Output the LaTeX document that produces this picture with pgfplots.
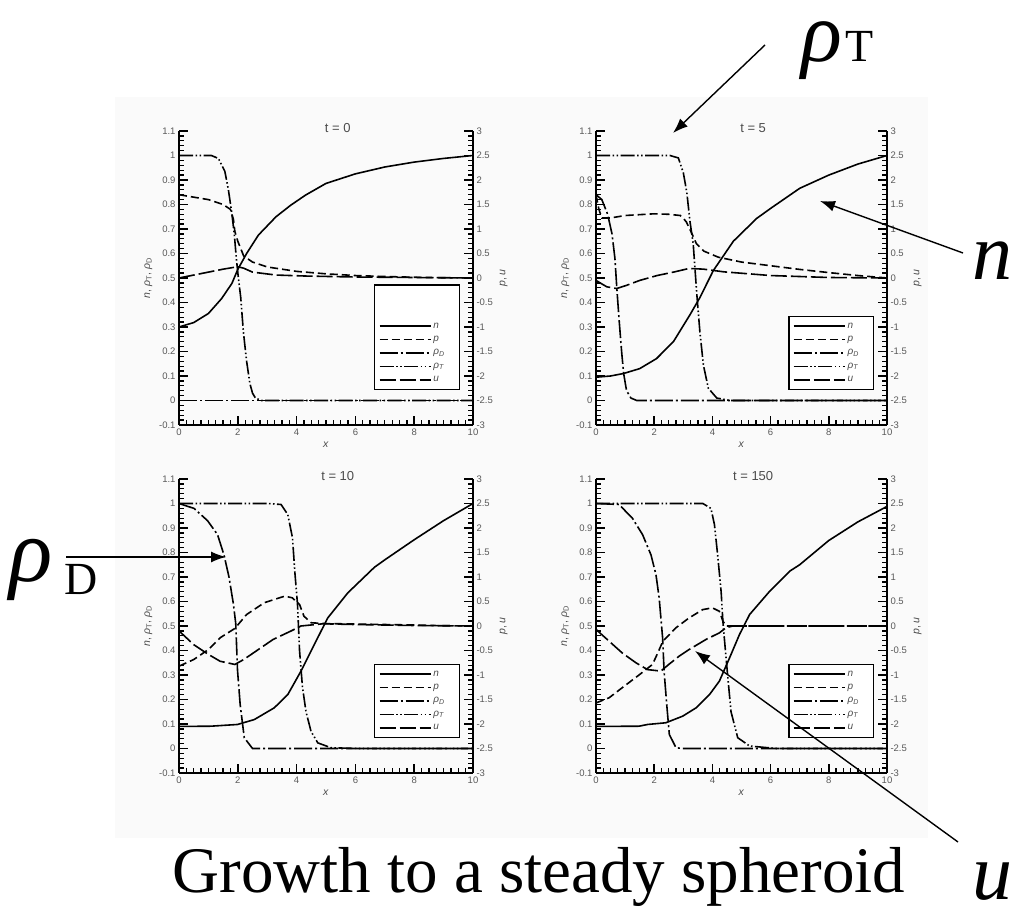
\documentclass[border=0pt]{standalone}
\usepackage{fontspec}
\setmainfont{Liberation Serif}
\setsansfont{Liberation Sans}
\usepackage{pgfplots}
\pgfplotsset{compat=1.18}
\usetikzlibrary{arrows.meta}

\tikzset{
  nst/.style={black, line width=1.6pt, solid},
  pst/.style={black, line width=1.6pt, dash pattern=on 8pt off 4pt},
  dst/.style={black, line width=1.6pt, dash pattern=on 18pt off 3pt on 2pt off 3pt},
  tst/.style={black, line width=1.6pt, dash pattern=on 14pt off 2.5pt on 1.5pt off 2.5pt on 1.5pt off 2.5pt},
  ust/.style={black, line width=1.6pt, dash pattern=on 16pt off 4pt},
  bigl/.style={anchor=base west, inner sep=0pt, text height=20pt, text depth=0pt},
}
\newcommand\tickfont{\fontsize{9.5}{10}\selectfont\sffamily}

\pgfplotsset{
  legend image code/.code={\draw[#1] (0pt,0pt) -- (51pt,0pt);},
  panelbase/.style={
    scale only axis, height=294pt, anchor=south west,
    xmin=0, xmax=10,
    tick align=inside,
    major tick length=9pt, minor tick length=5pt,
    major tick style={draw=black, line width=1.6pt},
    minor tick style={draw=black, line width=1.3pt},
    axis line style={black, line width=1.3pt},
    tick label style={font=\tickfont, color=black!65},
    label style={font=\fontsize{10.5}{11}\selectfont\sffamily, color=black!70},
    /pgf/number format/assume math mode=true,
  },
  leftax/.style={
    panelbase, ymin=-0.1, ymax=1.1,
    axis x line*=bottom, axis y line*=left,
    xtick={0,2,4,6,8,10}, minor x tick num=7,
    ytick={-0.1,0,0.1,0.2,0.3,0.4,0.5,0.6,0.7,0.8,0.9,1,1.1}, minor y tick num=4,
    xlabel={\textit{x}},
    ylabel={\textit{n}, \textit{ρ}\textsubscript{T}, \textit{ρ}\textsubscript{D}},
    title style={at={(0.54,1)}, anchor=center, yshift=-3pt,
      font=\fontsize{13}{13}\selectfont\sffamily, color=black!70},
    legend style={at={(0.956,0.119)}, anchor=south east, draw=black,
      line width=1.3pt, fill=white,
      font=\fontsize{10}{11}\selectfont\sffamily\itshape, text=black!70,
      row sep=2.6pt, inner xsep=4pt, inner ysep=4pt, cells={anchor=west}},
  },
  rightax/.style={
    panelbase, ymin=-3, ymax=3,
    axis x line=none, axis y line*=right,
    ytick={-3,-2.5,-2,-1.5,-1,-0.5,0,0.5,1,1.5,2,2.5,3}, minor y tick num=4,
    ylabel={\textit{p}, \textit{u}},
  },
}

\newcommand\fiveleg{%
  \addlegendimage{nst}\addlegendentry{\makebox[20pt][l]{n}}
  \addlegendimage{pst}\addlegendentry{\makebox[20pt][l]{p}}
  \addlegendimage{dst}\addlegendentry{\makebox[20pt][l]{ρ\textsubscript{D}}}
  \addlegendimage{tst}\addlegendentry{\makebox[20pt][l]{ρ\textsubscript{T}}}
  \addlegendimage{ust}\addlegendentry{\makebox[20pt][l]{u}}
}

\begin{document}
\begin{tikzpicture}
\path (0pt,0pt) rectangle (1013pt,917pt);
\fill[black!2] (115pt,79pt) rectangle (928pt,820pt);

% ---------------- t = 0 ----------------
\begin{axis}[leftax, at={(179pt,492pt)}, width=294pt, title={t = 0}]
\addplot[nst, forget plot] coordinates {(0,0.30)(0.5,0.318)(1,0.355)(1.45,0.416)(1.8,0.478)(2,0.535)(2.3,0.60)(2.7,0.675)(3.3,0.75)(3.8,0.797)(4.3,0.838)(5,0.886)(6,0.925)(7,0.953)(8,0.973)(9,0.988)(10,1.0)};
\addplot[tst, forget plot] coordinates {(0,1.0)(1.1,1.0)(1.34,0.988)(1.56,0.935)(1.68,0.86)(1.79,0.77)(1.88,0.68)(1.95,0.58)(2.02,0.5)(2.1,0.42)(2.19,0.28)(2.3,0.16)(2.41,0.07)(2.5,0.03)(2.6,0.01)(2.8,0)(10,0)};
\addplot[dst, forget plot] coordinates {(0,0)(10,0)};
\addlegendimage{empty legend}\addlegendentry{\strut}
\addlegendimage{empty legend}\addlegendentry{\strut}
\fiveleg
\end{axis}
\begin{axis}[rightax, at={(179pt,492pt)}, width=294pt]
\addplot[pst] coordinates {(0,1.7)(0.5,1.65)(1,1.6)(1.5,1.5)(1.75,1.4)(1.85,1.2)(1.9,0.95)(2,0.75)(2.2,0.45)(2.5,0.325)(3,0.225)(4,0.135)(5,0.085)(6,0.05)(7,0.03)(8,0.015)(9,0.005)(10,0)};
\addplot[ust] coordinates {(0,0)(0.5,0.06)(1,0.12)(1.5,0.18)(2,0.23)(2.2,0.2)(2.5,0.12)(3.3,0.06)(4.3,0.04)(6,0.02)(8,0.01)(10,0)};
\end{axis}

% ---------------- t = 5 ----------------
\begin{axis}[leftax, at={(596pt,492pt)}, width=291pt, title={t = 5}]
\addplot[nst, forget plot] coordinates {(0,0.095)(0.5,0.10)(0.94,0.11)(1.5,0.13)(2.08,0.171)(2.66,0.24)(3.23,0.35)(3.57,0.42)(4.03,0.53)(4.72,0.65)(5.52,0.743)(6,0.784)(7,0.866)(8,0.92)(9,0.965)(10,1.0)};
\addplot[tst, forget plot] coordinates {(0,1.0)(2.54,1.0)(2.83,0.99)(3.0,0.93)(3.12,0.85)(3.23,0.73)(3.34,0.64)(3.46,0.44)(3.57,0.28)(3.69,0.145)(3.86,0.05)(4.15,0.01)(4.6,0)(10,0)};
\addplot[dst, forget plot] coordinates {(0,0.84)(0.2,0.82)(0.4,0.76)(0.55,0.68)(0.65,0.58)(0.72,0.45)(0.8,0.32)(0.88,0.2)(0.95,0.11)(1.05,0.04)(1.2,0.01)(1.4,0)(10,0)};
\fiveleg
\end{axis}
\begin{axis}[rightax, at={(596pt,492pt)}, width=291pt]
\addplot[pst] coordinates {(0,1.7)(0.1,1.4)(0.2,1.225)(0.5,1.225)(1,1.275)(2,1.31)(2.5,1.3)(2.9,1.275)(3.1,1.15)(3.3,0.9)(3.45,0.7)(3.7,0.55)(4.2,0.425)(5,0.325)(6,0.25)(7,0.175)(8,0.11)(9,0.05)(10,0)};
\addplot[ust] coordinates {(0,-0.05)(0.37,-0.18)(0.71,-0.215)(1.05,-0.15)(1.5,-0.05)(2.1,0.05)(2.7,0.125)(3.2,0.195)(3.7,0.18)(4.4,0.125)(6,0.05)(7,0.03)(8,0.01)(10,0)};
\end{axis}

% ---------------- t = 10 ----------------
\begin{axis}[leftax, at={(179pt,144pt)}, width=294pt, title={t = 10}]
\addplot[nst, forget plot] coordinates {(0,0.09)(1.08,0.091)(1.99,0.098)(2.56,0.118)(3.24,0.166)(3.7,0.22)(4.15,0.316)(4.6,0.424)(5.06,0.533)(5.74,0.635)(6.65,0.74)(7,0.77)(8,0.852)(9,0.93)(10,1.0)};
\addplot[tst, forget plot] coordinates {(0,1.0)(3.0,1.0)(3.47,0.996)(3.7,0.955)(3.86,0.86)(3.94,0.72)(4.03,0.59)(4.1,0.4)(4.2,0.25)(4.32,0.15)(4.49,0.07)(4.72,0.023)(5.17,0.003)(6.1,0)(10,0)};
\addplot[dst, forget plot] coordinates {(0,1.0)(0.51,0.98)(0.97,0.93)(1.31,0.873)(1.53,0.79)(1.7,0.70)(1.85,0.59)(1.93,0.51)(1.99,0.32)(2.08,0.18)(2.22,0.044)(2.5,0)(10,0)};
\fiveleg
\end{axis}
\begin{axis}[rightax, at={(179pt,144pt)}, width=294pt]
\addplot[pst] coordinates {(0,-0.82)(0.5,-0.685)(1.0,-0.48)(1.4,-0.24)(1.9,-0.05)(2.3,0.235)(2.9,0.475)(3.6,0.61)(3.85,0.575)(4.1,0.44)(4.25,0.2)(4.5,0.065)(5,0.05)(6,0.04)(7,0.03)(8,0.02)(9,0.005)(10,0)};
\addplot[ust] coordinates {(0,-0.1)(0.5,-0.38)(1.0,-0.58)(1.4,-0.72)(1.9,-0.785)(2.2,-0.685)(2.7,-0.48)(3.2,-0.275)(3.8,-0.105)(4.15,0)(4.9,0.045)(6,0.03)(7,0.02)(8,0.01)(10,0)};
\end{axis}

% ---------------- t = 150 ----------------
\begin{axis}[leftax, at={(596pt,144pt)}, width=291pt, title={t = 150}]
\addplot[nst, forget plot] coordinates {(0,0.09)(1.48,0.091)(1.77,0.098)(2.4,0.105)(2.98,0.132)(3.44,0.166)(3.9,0.22)(4.24,0.275)(4.59,0.37)(4.93,0.465)(5.28,0.547)(5.97,0.642)(6.66,0.724)(7,0.75)(8,0.849)(9,0.925)(10,0.988)};
\addplot[tst, forget plot] coordinates {(0,1.0)(3.67,1.0)(3.95,0.98)(4.07,0.914)(4.18,0.79)(4.3,0.64)(4.36,0.52)(4.41,0.45)(4.53,0.29)(4.64,0.15)(4.87,0.044)(5.28,0.01)(6.2,0)(10,0)};
\addplot[dst, forget plot] coordinates {(0,1.0)(0.79,0.996)(1.25,0.94)(1.6,0.873)(1.89,0.79)(2.06,0.71)(2.17,0.615)(2.29,0.45)(2.34,0.315)(2.43,0.18)(2.52,0.057)(2.75,0.003)(2.98,0)(10,0)};
\fiveleg
\end{axis}
\begin{axis}[rightax, at={(596pt,144pt)}, width=291pt]
\addplot[pst] coordinates {(0,-1.57)(0.45,-1.465)(0.9,-1.26)(1.5,-0.99)(1.94,-0.785)(2.1,-0.58)(2.3,-0.31)(2.75,-0.035)(3.2,0.165)(3.67,0.335)(4.0,0.37)(4.24,0.3)(4.36,0.1)(4.47,0)(10,0)};
\addplot[ust] coordinates {(0,-0.07)(0.45,-0.31)(0.9,-0.55)(1.37,-0.75)(1.77,-0.89)(2.23,-0.92)(2.5,-0.785)(2.86,-0.615)(3.2,-0.48)(3.78,-0.275)(4.24,-0.14)(4.47,-0.035)(4.7,0)(10,0)};
\end{axis}

% ---------------- annotations ----------------
\node[bigl, font=\fontsize{85}{85}\selectfont\itshape] at (801pt,855pt) {ρ};
\node[bigl, font=\fontsize{46}{46}\selectfont] at (845pt,855pt) {T};
\draw[line width=1.4pt, -{Latex[length=15pt,width=11pt]}] (765pt,872pt) -- (673pt,784pt);

\node[bigl, font=\fontsize{80}{80}\selectfont\itshape] at (972pt,637pt) {n};
\draw[line width=1.4pt, -{Latex[length=15pt,width=11pt]}] (963pt,664pt) -- (820pt,716pt);

\node[bigl, font=\fontsize{90}{90}\selectfont\itshape] at (9pt,335pt) {ρ};
\node[bigl, font=\fontsize{46}{46}\selectfont] at (64pt,322pt) {D};
\draw[line width=1.4pt, -{Latex[length=15pt,width=11pt]}] (66pt,360pt) -- (226pt,360pt);

\node[bigl, font=\fontsize{80}{80}\selectfont\itshape] at (972pt,17pt) {u};
\draw[line width=1.4pt, -{Latex[length=15pt,width=11pt]}] (958pt,75pt) -- (695pt,266pt);

\node[anchor=base, inner sep=0pt, font=\fontsize{65}{65}\selectfont] at (539pt,24pt) {Growth to a steady spheroid};
\end{tikzpicture}
\end{document}
